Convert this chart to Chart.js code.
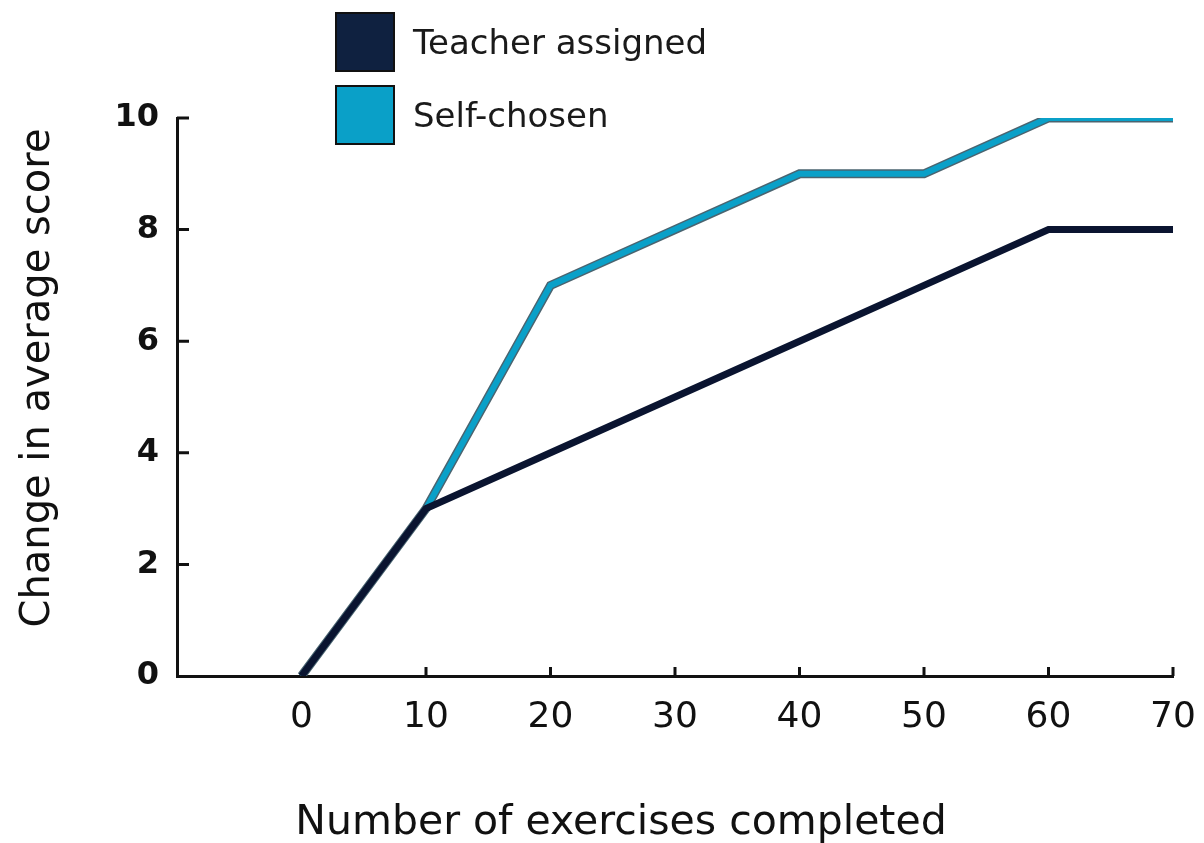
<!DOCTYPE html>
<html>
<head>
<meta charset="utf-8">
<script src="https://cdn.jsdelivr.net/npm/chart.js@4.4.0/dist/chart.umd.min.js"></script>
<style>
  html, body { margin: 0; padding: 0; background: #fff; overflow: hidden; }
  #wrap { position: relative; width: 1204px; height: 843px; overflow: hidden; font-family: "DejaVu Sans", sans-serif; color: #111; }
  #legend { position: absolute; left: 335px; top: 12px; font-size: 34px; color: #1a1a1a; }
  .item { display: flex; align-items: center; height: 60px; margin-bottom: 13px; }
  .box { width: 56px; height: 56px; border: 2px solid #111; margin-right: 18px; }
  #xtitle { position: absolute; left: 21px; width: 1200px; top: 796px; line-height: 48px; text-align: center; font-size: 41px; }
  #ytitle { position: absolute; left: 35px; top: 378px; width: 600px; margin-left: -300px; line-height: 48px; margin-top: -24px; text-align: center; font-size: 40px; transform: rotate(-90deg); }
</style>
</head>
<body>
<div id="wrap">
  <canvas id="chart" width="1204" height="843"></canvas>
  <div id="legend">
    <div class="item"><span class="box" style="background:#0f2140"></span>Teacher assigned</div>
    <div class="item"><span class="box" style="background:#0aa0c8"></span>Self-chosen</div>
  </div>
  <div id="xtitle">Number of exercises completed</div>
  <div id="ytitle">Change in average score</div>
</div>
<script>
// data
const exercises = [0, 10, 20, 30, 40, 50, 60, 70];
const teacherAssigned = [0, 3, 4, 5, 6, 7, 8, 8];
const selfChosen = [0, 3, 7, 8, 9, 9, 10, 10];
const xTicks = [0, 10, 20, 30, 40, 50, 60, 70];
const yTicks = [0, 2, 4, 6, 8, 10];

const pts = arr => exercises.map((x, i) => ({ x, y: arr[i] }));

// small inward tick marks on both axes
const innerTicks = {
  id: "innerTicks",
  afterDraw(chart) {
    const { ctx, chartArea, scales } = chart;
    ctx.save();
    ctx.strokeStyle = "#111";
    ctx.lineWidth = 3;
    ctx.beginPath();
    xTicks.filter(v => v > 0).forEach(v => {
      const px = scales.x.getPixelForValue(v);
      ctx.moveTo(px, chartArea.bottom);
      ctx.lineTo(px, chartArea.bottom - 9);
    });
    yTicks.filter(v => v > 0).forEach(v => {
      const py = scales.y.getPixelForValue(v);
      ctx.moveTo(chartArea.left, py);
      ctx.lineTo(chartArea.left + 12, py);
    });
    ctx.stroke();
    ctx.restore();
  }
};

new Chart(document.getElementById("chart"), {
  type: "line",
  plugins: [innerTicks],
  data: {
    datasets: [
      { label: "Teacher assigned", data: pts(teacherAssigned), borderColor: "#0a1430", borderWidth: 7, pointRadius: 0, tension: 0, order: 0 },
      { label: "Self-chosen", data: pts(selfChosen), borderColor: "#0aa0c8", borderWidth: 6, pointRadius: 0, tension: 0, order: 1 },
      { label: "outline", data: pts(selfChosen), borderColor: "#4a6470", borderWidth: 9, pointRadius: 0, tension: 0, order: 2 }
    ]
  },
  options: {
    responsive: false,
    animation: false,
    layout: { padding: { top: 118, right: 31, left: 0, bottom: 0 } },
    plugins: { legend: { display: false }, tooltip: { enabled: false } },
    scales: {
      x: {
        type: "linear",
        min: -10, max: 70,
        afterBuildTicks: s => { s.ticks = xTicks.map(v => ({ value: v })); },
        afterFit: s => { s.height = 167; s.paddingRight = 0; s.paddingLeft = 0; },
        grid: { display: false, drawTicks: false },
        border: { display: true, color: "#111", width: 3 },
        ticks: { padding: 20, color: "#111", font: { family: "DejaVu Sans", size: 36 }, maxRotation: 0 },
        title: { display: false }
      },
      y: {
        min: 0, max: 10,
        afterBuildTicks: s => { s.ticks = yTicks.map(v => ({ value: v })); },
        afterFit: s => { s.width = 177; s.paddingTop = 0; s.paddingBottom = 0; },
        grid: { display: false, drawTicks: false },
        border: { display: true, color: "#111", width: 3 },
        ticks: { padding: 18, color: "#111", font: { family: "DejaVu Sans", size: 32, weight: "bold" } },
        title: { display: false }
      }
    }
  }
});
</script>
</body>
</html>
